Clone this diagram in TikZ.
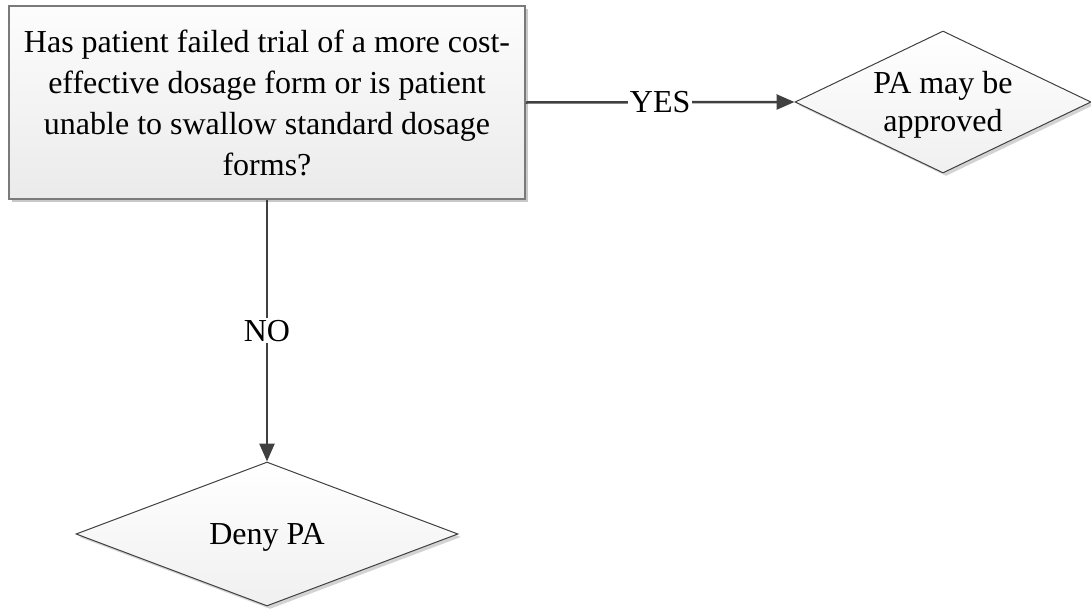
\documentclass[tikz,border=0pt]{standalone}
\usepackage{fontspec}
\setmainfont{Liberation Serif}
\usetikzlibrary{shapes.geometric,arrows.meta,shadows}
\definecolor{edgegray}{HTML}{404040}
\definecolor{boxline}{HTML}{7A7A7A}
\definecolor{shadowgray}{HTML}{C8C8C8}
\begin{document}
\begin{tikzpicture}[x=1pt,y=-1pt,
  txt/.style={font=\fontsize{32}{41}\selectfont, text=black},
  question/.style={rectangle, draw=boxline, line width=1.5pt,
    top color=black!1, bottom color=black!8,
    minimum width=516pt, minimum height=193pt, inner sep=0pt,
    align=center, txt,
    drop shadow={shadow xshift=3pt, shadow yshift=-3pt, fill=shadowgray, opacity=1}},
  decision/.style={diamond, draw=edgegray, line width=1pt,
    top color=white, bottom color=black!6, inner sep=0pt,
    drop shadow={shadow xshift=3pt, shadow yshift=-3pt, fill=shadowgray, opacity=0.8}},
  dtext/.style={align=center, font=\fontsize{32}{38}\selectfont, text=black, yshift=-3pt},
  arr/.style={draw=edgegray, line width=2.5pt,
    -{Triangle[length=18pt,width=15pt,fill=edgegray]}},
  lbl/.style={fill=white, inner sep=2pt, font=\fontsize{32}{38}\selectfont, text=black}]
\useasboundingbox (0,0) rectangle (1091,608);

% question box
\node[question] (q) at (267,102.5)
  {Has patient failed trial of a more cost-\\
   effective dosage form or is patient\\
   unable to swallow standard dosage\\
   forms?};

% outcome diamonds
\node[decision, minimum width=296pt, minimum height=142pt,
  label={[dtext, name=approvetext]center:{PA may be\\approved}}]
  (approve) at (943,102) {};
\node[decision, minimum width=382pt, minimum height=144pt,
  label={[dtext, name=denytext]center:{Deny PA}}]
  (deny) at (267,534) {};

% connectors
\draw[arr] (q.east) -- node[lbl] (yes) {YES} (approve.west);
\draw[arr] (q.south) -- node[lbl] (no) {NO} (deny.north);
\end{tikzpicture}
\end{document}
